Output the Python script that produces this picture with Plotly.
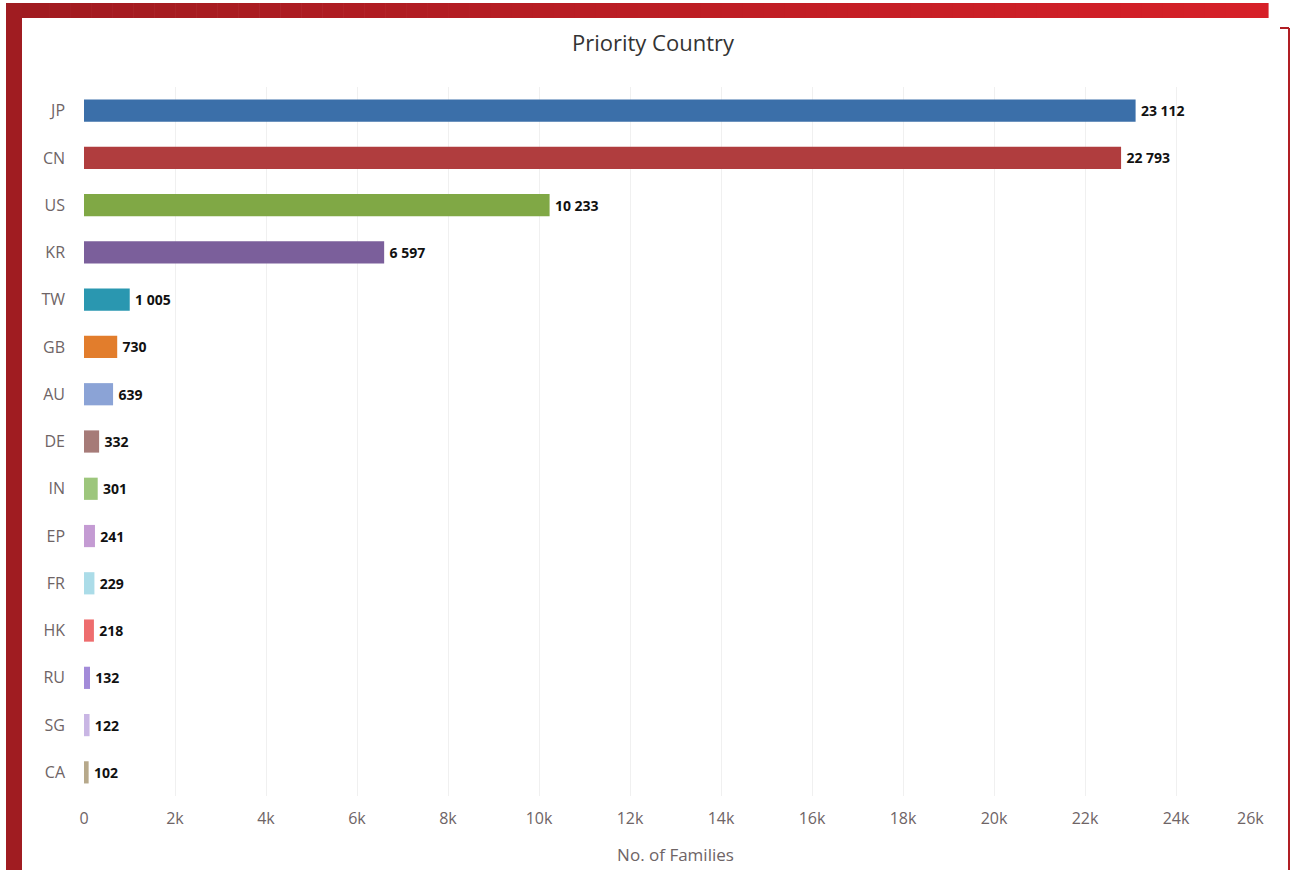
import plotly.graph_objects as go

# Priority countries and patent family counts
countries = ["JP", "CN", "US", "KR", "TW", "GB", "AU", "DE", "IN", "EP", "FR", "HK", "RU", "SG", "CA"]
families = [23112, 22793, 10233, 6597, 1005, 730, 639, 332, 301, 241, 229, 218, 132, 122, 102]
bar_colors = ["#3b6fa9", "#b03d3e", "#80a845", "#7b5f9b", "#2a97b0", "#e27d2c",
              "#8ba3d6", "#a67b78", "#9dc67c", "#c49bd3", "#abdce8", "#ee6d6e",
              "#a38bd9", "#c9b6e4", "#b7a98b"]
x_ticks = list(range(0, 24001, 2000))
x_tick_text = ["0"] + [f"{v // 1000}k" for v in x_ticks[1:]]
x_max = 26000

W, H = 1294, 890
ML, MR, MT, MB = 84, 27, 87, 94
PW, PH = W - ML - MR, H - MT - MB


def px(x):
    return (x - ML) / PW


def py(y):
    return (H - MB - y) / PH


def fmt(v):
    return "\u2009" + f"{v:,}".replace(",", " ")


tick_font = dict(family="Open Sans", size=16, color="#6e6466")

fig = go.Figure(go.Bar(
    x=families,
    y=countries,
    orientation="h",
    marker=dict(color=bar_colors, line=dict(width=0)),
    width=0.47,
    text=[fmt(v) for v in families],
    textposition="outside",
    textfont=dict(family="Open Sans", size=14, color="#111111", weight="bold"),
    cliponaxis=False,
    hoverinfo="x+y",
))

shapes = []
# top banner with a left-to-right red gradient
x0, x1, steps = 7, 1268, 60
c0, c1 = (160, 27, 32), (214, 32, 40)
for i in range(steps):
    t = i / (steps - 1)
    col = "rgb({},{},{})".format(*[round(a + (b - a) * t) for a, b in zip(c0, c1)])
    xa = x0 + (x1 - x0) * i / steps
    xb = x0 + (x1 - x0) * (i + 1) / steps + 0.6
    shapes.append(dict(type="rect", xref="paper", yref="paper", layer="above",
                       x0=px(xa), x1=px(xb), y0=py(18), y1=py(3),
                       fillcolor=col, line=dict(width=0)))
# left banner
shapes.append(dict(type="rect", xref="paper", yref="paper", layer="above",
                   x0=px(6), x1=px(22), y0=py(870), y1=py(3),
                   fillcolor="#a01c21", line=dict(width=0)))
# right thin bracket
shapes.append(dict(type="line", xref="paper", yref="paper",
                   x0=px(1289), x1=px(1289), y0=py(870), y1=py(28),
                   line=dict(color="#b01e24", width=2)))
shapes.append(dict(type="line", xref="paper", yref="paper",
                   x0=px(1280), x1=px(1289), y0=py(28), y1=py(28),
                   line=dict(color="#b01e24", width=2)))

# last tick label, pulled inward so it stays clear of the frame
annotations = [dict(x=x_max, y=0, xref="x", yref="paper", yanchor="top",
                    text=f"{x_max // 1000}k", showarrow=False, xshift=-17, yshift=-9,
                    font=tick_font)]

fig.update_layout(
    width=W, height=H,
    margin=dict(l=ML, r=MR, t=MT, b=MB, autoexpand=False),
    paper_bgcolor="white", plot_bgcolor="white",
    showlegend=False,
    bargap=0.53,
    title=dict(text="Priority Country", x=653 / W, xanchor="center",
               y=1 - 43 / H, yanchor="middle",
               font=dict(family="Open Sans", size=22, color="#333333")),
    xaxis=dict(range=[0, x_max], tickvals=x_ticks + [x_max], ticktext=x_tick_text + [""],
               showgrid=True, gridcolor="#f0f0f0", gridwidth=1, zeroline=False,
               showline=False, ticks="", ticklabelstandoff=11,
               tickfont=tick_font,
               title=dict(text="No. of Families", standoff=21,
                          font=dict(family="Open Sans", size=17, color="#6e6466"))),
    yaxis=dict(autorange="reversed", categoryorder="array", categoryarray=countries,
               showgrid=False, zeroline=False, showline=False, ticks="",
               ticklabelstandoff=18,
               tickfont=tick_font),
    shapes=shapes,
    annotations=annotations,
)

fig.write_html("out.html")
